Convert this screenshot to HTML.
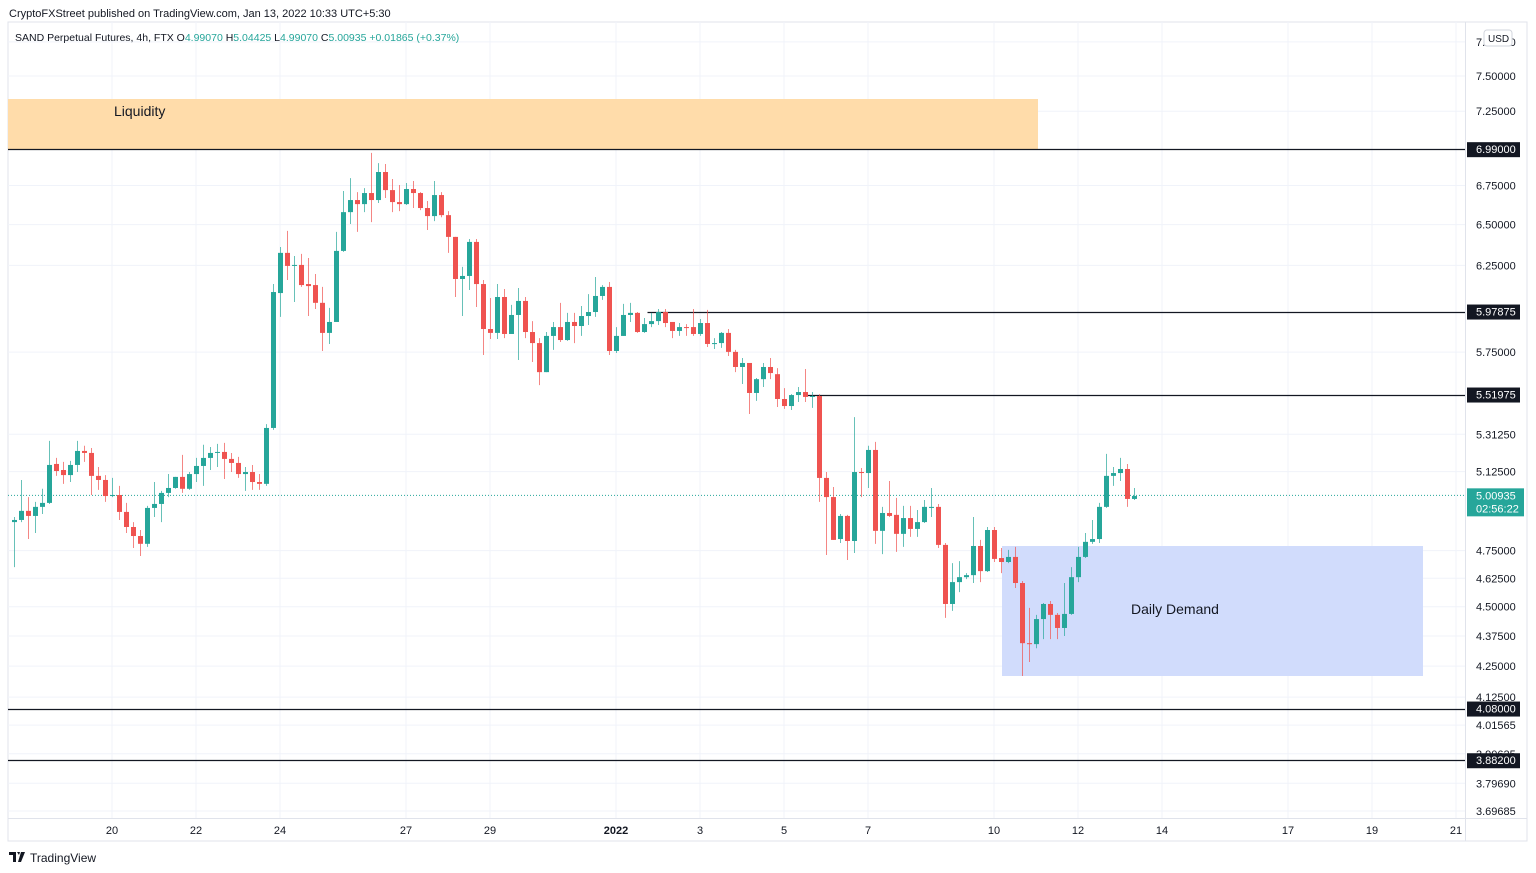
<!DOCTYPE html>
<html><head><meta charset="utf-8">
<style>
html,body{margin:0;padding:0;background:#fff;width:1536px;height:873px;overflow:hidden;font-family:"Liberation Sans",sans-serif;}
svg text{font-family:"Liberation Sans",sans-serif;}
</style></head>
<body>
<svg id="chart" width="1536" height="873" xmlns="http://www.w3.org/2000/svg"></svg>
<script>
const opens=[4.882,4.892,4.935,4.911,4.954,4.973,5.163,5.133,5.108,5.158,5.228,5.218,5.104,5.084,5.006,5.011,4.930,4.859,4.817,4.781,4.949,4.968,5.021,5.045,5.099,5.041,5.113,5.153,5.193,5.218,5.223,5.188,5.168,5.113,5.123,5.074,5.065,5.345,6.086,6.326,6.247,6.253,6.139,6.133,6.029,5.857,5.919,6.338,6.579,6.656,6.630,6.701,6.656,6.838,6.720,6.643,6.630,6.727,6.701,6.605,6.554,6.688,6.560,6.424,6.169,6.187,6.393,6.139,5.879,5.857,6.063,5.851,5.959,6.040,5.862,5.800,5.640,5.840,5.890,5.817,5.919,5.896,5.953,5.976,6.069,6.122,5.756,5.840,5.959,5.971,5.862,5.907,5.924,5.976,5.919,5.868,5.890,5.890,5.851,5.913,5.795,5.800,5.857,5.751,5.668,5.690,5.528,5.602,5.668,5.629,5.496,5.459,5.517,5.533,5.507,5.512,5.094,5.001,4.803,4.911,4.794,5.123,5.118,5.233,4.841,4.925,4.916,4.827,4.901,4.850,4.882,4.949,4.954,4.776,4.512,4.608,4.630,4.639,4.771,4.657,4.845,4.716,4.698,4.721,4.604,4.345,4.341,4.447,4.512,4.465,4.409,4.469,4.630,4.721,4.790,4.803,4.954,5.104,5.118,5.138,4.992];
const highs=[4.906,5.084,5.001,4.978,5.041,5.279,5.193,5.173,5.178,5.279,5.254,5.243,5.148,5.108,5.094,5.055,4.973,4.882,4.845,4.959,5.074,5.031,5.113,5.099,5.208,5.123,5.193,5.259,5.248,5.264,5.269,5.218,5.198,5.148,5.158,5.113,5.365,6.139,6.362,6.461,6.307,6.320,6.295,6.199,6.122,6.000,6.455,6.714,6.798,6.707,6.733,6.965,6.897,6.891,6.792,6.753,6.766,6.779,6.707,6.650,6.779,6.707,6.585,6.424,6.241,6.411,6.411,6.163,6.057,6.139,6.110,6.017,6.116,6.063,5.924,5.828,5.862,5.919,6.029,5.971,5.971,6.011,6.080,6.181,6.133,6.151,5.890,6.023,6.029,5.976,5.942,5.971,5.993,5.993,5.919,5.913,5.907,5.993,5.936,5.988,5.828,5.862,5.879,5.762,5.717,5.690,5.608,5.690,5.717,5.662,5.554,5.522,5.560,5.657,5.533,5.522,5.123,5.050,4.920,4.916,5.401,5.143,5.254,5.274,4.954,5.079,4.997,4.959,4.959,4.939,4.987,5.045,4.968,4.785,4.693,4.702,4.648,4.906,4.799,4.859,4.859,4.762,4.753,4.767,4.613,4.495,4.465,4.516,4.525,4.473,4.604,4.675,4.767,4.831,4.892,4.973,5.213,5.148,5.193,5.163,5.045];
const lows=[4.675,4.882,4.803,4.831,4.920,4.968,5.104,5.065,5.074,5.123,5.173,5.011,5.036,4.978,5.001,4.892,4.831,4.762,4.725,4.767,4.906,4.882,5.001,5.041,5.021,5.036,5.074,5.055,5.133,5.148,5.089,5.123,5.094,5.031,5.036,5.036,5.055,5.335,5.948,6.163,6.034,6.122,5.953,5.993,5.756,5.795,5.919,6.332,6.504,6.455,6.579,6.516,6.637,6.669,6.579,6.585,6.624,6.605,6.592,6.467,6.522,6.547,6.326,6.063,5.953,6.104,6.005,5.734,5.823,5.823,5.828,5.857,5.706,5.828,5.695,5.570,5.640,5.762,5.806,5.812,5.800,5.840,5.902,5.948,6.046,5.734,5.745,5.840,5.919,5.857,5.857,5.890,5.902,5.890,5.828,5.840,5.840,5.840,5.840,5.778,5.767,5.773,5.728,5.640,5.576,5.417,5.486,5.560,5.602,5.454,5.444,5.438,5.480,5.480,5.449,4.978,4.730,4.799,4.785,4.707,4.739,5.001,5.045,4.781,4.734,4.906,4.744,4.767,4.813,4.813,4.878,4.906,4.762,4.452,4.482,4.564,4.621,4.604,4.608,4.653,4.698,4.648,4.693,4.582,4.210,4.267,4.324,4.362,4.362,4.362,4.375,4.465,4.608,4.716,4.781,4.785,4.949,5.055,5.079,4.954,4.987];
const closes=[4.892,4.935,4.911,4.954,4.973,5.158,5.128,5.108,5.158,5.228,5.218,5.104,5.084,5.006,5.011,4.930,4.859,4.817,4.781,4.949,4.968,5.021,5.045,5.099,5.041,5.113,5.153,5.193,5.218,5.223,5.188,5.168,5.113,5.123,5.074,5.065,5.345,6.092,6.326,6.247,6.253,6.133,6.127,6.029,5.857,5.919,6.338,6.579,6.656,6.630,6.701,6.656,6.838,6.720,6.643,6.630,6.727,6.701,6.605,6.554,6.688,6.560,6.424,6.169,6.187,6.393,6.139,5.879,5.857,6.063,5.851,5.959,6.040,5.862,5.800,5.640,5.840,5.890,5.817,5.919,5.896,5.953,5.976,6.069,6.122,5.756,5.840,5.959,5.971,5.862,5.907,5.924,5.976,5.913,5.868,5.890,5.885,5.851,5.913,5.795,5.800,5.857,5.751,5.668,5.690,5.528,5.602,5.668,5.635,5.496,5.459,5.517,5.533,5.507,5.512,5.094,5.001,4.799,4.911,4.794,5.123,5.118,5.233,4.841,4.925,4.911,4.827,4.901,4.850,4.882,4.954,4.954,4.776,4.512,4.608,4.630,4.639,4.771,4.657,4.845,4.712,4.698,4.721,4.604,4.345,4.341,4.447,4.512,4.465,4.409,4.469,4.630,4.721,4.790,4.803,4.954,5.104,5.118,5.138,4.992,5.006];
const priceTicks=[7.75,7.5,7.25,6.75,6.5,6.25,5.75,5.3125,5.125,4.75,4.625,4.5,4.375,4.25,4.125,4.01565,3.9063,3.7969,3.69685];
const tickLabels=["7.75000","7.50000","7.25000","6.75000","6.50000","6.25000","5.75000","5.31250","5.12500","4.75000","4.62500","4.50000","4.37500","4.25000","4.12500","4.01565","3.90625","3.79690","3.69685"];
const dateDays=[0,2,4,7,9,12,14,16,18,21,23,25,28,30,32];
const dateLabels=["20","22","24","27","29","2022","3","5","7","10","12","14","17","19","21"];
const levels=[6.99,5.97875,5.51975,4.08,3.882];
const levelLabels=["6.99000","5.97875","5.51975","4.08000","3.88200"];
const levelStartDay=[null,12.75,16.5,null,null];
const firstCandleDay=-2.3333;
const lastPrice=5.00935;

const NS="http://www.w3.org/2000/svg";
const svg=document.getElementById('chart');
const X0=8,X1=1465,Y0=22,Y1=818;
function yOf(p){return 76+(Math.log(7.5)-Math.log(p))*1039;}
function xOfDay(d){return 112+d*42;}
function xOfIdx(i){return xOfDay(firstCandleDay+i/6);}
function mk(tag,attrs,parent){const e=document.createElementNS(NS,tag);for(const k in attrs)e.setAttribute(k,attrs[k]);(parent||svg).appendChild(e);return e;}
function txt(s,attrs,parent){const e=mk('text',attrs,parent);e.textContent=s;return e;}

let f=mk('rect',{x:X0,y:Y0,width:1519,height:819,fill:'#fff',stroke:'#e0e3eb'});

const grid=mk('g',{});
priceTicks.forEach(p=>{const y=yOf(p);mk('line',{x1:X0,x2:X1,y1:y,y2:y,stroke:'#f0f3fa'},grid);});
dateDays.forEach(d=>{const x=xOfDay(d);mk('line',{x1:x,x2:x,y1:Y0,y2:Y1,stroke:'#f0f3fa'},grid);});
mk('line',{x1:X1+0.5,x2:X1+0.5,y1:Y0,y2:841,stroke:'#e0e3eb'});
mk('line',{x1:X0,x2:1527,y1:Y1+0.5,y2:Y1+0.5,stroke:'#e0e3eb'});

let lz=mk('rect',{x:X0,y:99,width:1030,height:50,fill:'#ffdcaa'});

let lt=txt('Liquidity',{x:114,y:116,'font-size':14,fill:'#131722'});

let dz=mk('rect',{x:1002,y:546,width:421,height:130,fill:'#d1dcfc'});

let dt=txt('Daily Demand',{x:1131,y:614,'font-size':14,fill:'#131722'});


levels.forEach((p,i)=>{
  const y=Math.round(yOf(p))+0.5;
  const xs=levelStartDay[i]===null?X0:xOfDay(levelStartDay[i]);
  const l=mk('line',{x1:xs,x2:X1,y1:y,y2:y,stroke:'#131722','stroke-width':1.2});
  
  
});

const ly=yOf(lastPrice);
mk('line',{x1:X0,x2:X1,y1:ly,y2:ly,stroke:'#26a69a','stroke-dasharray':'1 2'});

const cg=mk('g',{});
for(let i=0;i<opens.length;i++){
  const up=closes[i]>=opens[i];const col=up?'#26a69a':'#ef5350';
  const x=Math.round(xOfIdx(i));
  const w=mk('line',{x1:x+0.5,x2:x+0.5,y1:yOf(highs[i]),y2:yOf(lows[i]),stroke:col,'stroke-opacity':0.7},cg);
  
  
  const yt=yOf(Math.max(opens[i],closes[i])),yb=yOf(Math.min(opens[i],closes[i]));
  const b=mk('rect',{x:x-2,y:yt,width:5,height:Math.max(1,yb-yt),fill:col},cg);
  
  
}

const ax=mk('g',{});
priceTicks.forEach((p,i)=>{txt(tickLabels[i],{x:1476,y:yOf(p)+4,'font-size':11,fill:'#131722'},ax);});
levels.forEach((p,i)=>{
  const y=yOf(p);
  const r=mk('rect',{x:1467,y:y-7,width:53,height:15,fill:'#131722'},ax);
  
  txt(levelLabels[i],{x:1476,y:y+4,'font-size':11,fill:'#fff'},ax);
});
let pr=mk('rect',{x:1467,y:ly-7,width:57,height:28,fill:'#26a69a'},ax);

txt('5.00935',{x:1476,y:ly+4,'font-size':11,fill:'#fff'},ax);
txt('02:56:22',{x:1476,y:ly+17,'font-size':11,fill:'#fff'},ax);
let usd=mk('rect',{x:1484,y:30,width:28,height:16,rx:3,fill:'#fff',stroke:'#d1d4dc'});

txt('USD',{x:1488,y:42,'font-size':10,fill:'#131722'});

const tx=mk('g',{});
dateDays.forEach((d,i)=>{txt(dateLabels[i],{x:xOfDay(d),y:834,'font-size':11,fill:'#131722','text-anchor':'middle','font-weight':dateLabels[i]==='2022'?'bold':'normal'},tx);});

let h1=txt('CryptoFXStreet published on TradingView.com, Jan 13, 2022 10:33 UTC+5:30',{x:9,y:17,'font-size':11,fill:'#131722'});

let h2=mk('text',{x:15,y:41,'font-size':10.5,fill:'#131722'});

h2.innerHTML='SAND Perpetual Futures, 4h, FTX O<tspan fill="#26a69a">4.99070</tspan> H<tspan fill="#26a69a">5.04425</tspan> L<tspan fill="#26a69a">4.99070</tspan> C<tspan fill="#26a69a">5.00935</tspan> <tspan fill="#26a69a">+0.01865 (+0.37%)</tspan>';
let lg=mk('g',{});
mk('path',{d:'M9 852h7v10h-3v-7h-4z M17 852h3l-1 3z M21 852h4l-4 10h-3z',fill:'#131722'},lg);
txt('TradingView',{x:30,y:862,'font-size':12,fill:'#131722'},lg);
</script>
</body></html>
